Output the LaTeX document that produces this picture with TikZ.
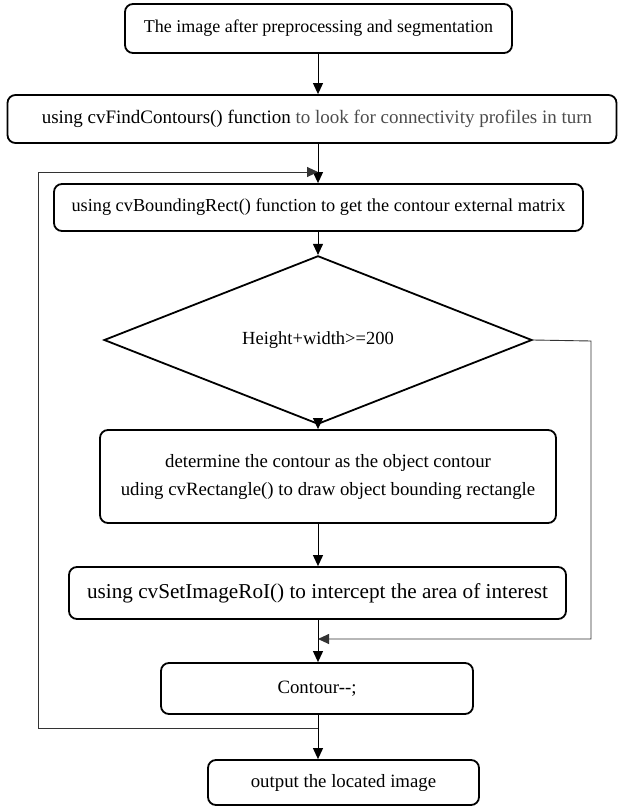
\documentclass[tikz,border=0pt]{standalone}
\usepackage{fontspec}
\setmainfont{Liberation Serif}
\usepackage{tikz}
\usetikzlibrary{shapes.geometric, arrows, arrows.meta, positioning, calc}

\tikzset{
    stepbox/.style={draw, rounded corners=8pt, line width=1.8pt, inner sep=0pt, align=center},
    flow/.style={-{Triangle[length=11pt,width=10pt]}, line width=1pt},
    back/.style={-{Triangle[length=11pt,width=10pt]}, line width=0.9pt, draw=black!80},
}

\begin{document}
\begin{tikzpicture}[x=1pt, y=-1pt]
    \useasboundingbox (0,0) rectangle (620,808);
    % boxes of the flow, top to bottom
    \node[stepbox, minimum width=387pt, minimum height=49pt, font=\fontsize{18}{22}\selectfont] (img) at (318.5,28.5) {The image after preprocessing and segmentation};
    \node[stepbox, minimum width=609pt, minimum height=48pt, font=\fontsize{19}{22}\selectfont] (find) at (312,119) {\hspace{10pt}using cvFindContours() function \textcolor{black!70}{to look for connectivity profiles in turn}};
    \node[stepbox, minimum width=529pt, minimum height=47pt, font=\fontsize{18.3}{22}\selectfont] (rect) at (318.5,207.5) {using cvBoundingRect() function to get the contour external matrix};
    \node[diamond, draw, line width=1.8pt, inner sep=0pt, minimum width=428pt, minimum height=122pt, font=\fontsize{18.5}{22}\selectfont] (cond) at (318,340) {Height+width>=200};
    \node[stepbox, minimum width=456pt, minimum height=93pt, font=\fontsize{18.8}{28}\selectfont] (obj) at (328,476.5) {determine the contour as the object contour\\uding cvRectangle() to draw object bounding rectangle};
    \node[stepbox, minimum width=497pt, minimum height=52pt, font=\fontsize{21.2}{24}\selectfont] (roi) at (317.5,593) {using cvSetImageRoI() to intercept the area of interest};
    \node[stepbox, minimum width=312pt, minimum height=51pt, font=\fontsize{18.8}{22}\selectfont] (cont) at (317,688.5) {Contour-{}-;};
    \node[stepbox, minimum width=271pt, minimum height=45pt, font=\fontsize{18.8}{22}\selectfont] (out) at (343.5,782.5) {output the located image};

    % bends of the two loops
    \coordinate (lb) at (38,728);
    \coordinate (lt) at (38,172);
    \coordinate (ljoin) at (318,172);
    \coordinate (rt) at (591,341);
    \coordinate (rb) at (591,639);
    \coordinate (rjoin) at (318,639);

    % straight connectors
    \draw[flow] (img.south -| ljoin) -- (find.north -| ljoin);
    \draw[flow] (find.south -| ljoin) -- (rect.north -| ljoin);
    \draw[flow] (rect.south -| ljoin) -- (cond.north);
    \draw[flow] (cond.south) -- (obj.north -| cond.south);
    \draw[flow] (obj.south -| ljoin) -- (roi.north -| ljoin);
    \draw[flow] (roi.south -| ljoin) -- (cont.north -| ljoin);
    \draw[flow] (cont.south -| ljoin) -- (out.north -| ljoin);

    % loop back to the next contour, and the "no" branch
    \draw[back] (lb -| ljoin) -- (lb) -- (lt) -- (ljoin);
    \draw[back] (cond.east) -- (rt) -- (rb) -- (rjoin);
\end{tikzpicture}
\end{document}
